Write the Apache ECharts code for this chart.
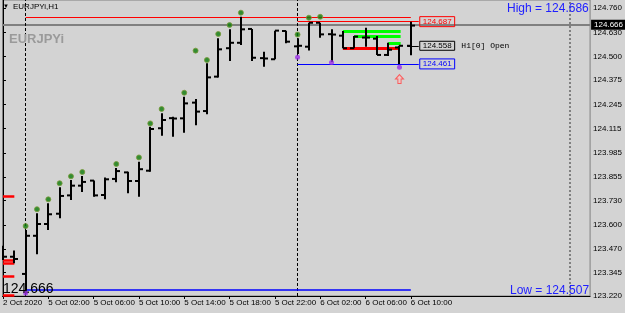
<!DOCTYPE html>
<html>
<head>
<meta charset="utf-8">
<script src="https://cdn.jsdelivr.net/npm/echarts@6/dist/echarts.min.js"></script>
<style>
html, body { margin: 0; padding: 0; background: #d3d3d3; }
#main { width: 625px; height: 313px; }
</style>
</head>
<body>
<div id="main"></div>
<script>
// EURJPYi H1 bars, 2 Oct 22:00 .. 6 Oct 10:00
var times = ['2 Oct 22:00', '2 Oct 23:00',
    '5 Oct 00:00', '5 Oct 01:00', '5 Oct 02:00', '5 Oct 03:00', '5 Oct 04:00', '5 Oct 05:00',
    '5 Oct 06:00', '5 Oct 07:00', '5 Oct 08:00', '5 Oct 09:00', '5 Oct 10:00', '5 Oct 11:00',
    '5 Oct 12:00', '5 Oct 13:00', '5 Oct 14:00', '5 Oct 15:00', '5 Oct 16:00', '5 Oct 17:00',
    '5 Oct 18:00', '5 Oct 19:00', '5 Oct 20:00', '5 Oct 21:00', '5 Oct 22:00', '5 Oct 23:00',
    '6 Oct 00:00', '6 Oct 01:00', '6 Oct 02:00', '6 Oct 03:00', '6 Oct 04:00', '6 Oct 05:00',
    '6 Oct 06:00', '6 Oct 07:00', '6 Oct 08:00', '6 Oct 09:00', '6 Oct 10:00'];

var open = [123.436, 123.430, 123.338, 123.542, 123.605, 123.660, 123.758, 123.810, 123.837, 123.760,
    123.846, 123.881, 123.835, 123.890, 124.117, 124.171, 124.170, 124.254, 124.209, 124.393,
    124.545, 124.574, 124.648, 124.492, 124.486, 124.637, 124.555, 124.553, 124.681, 124.620,
    124.612, 124.545, 124.602, 124.596, 124.509, 124.549, 124.558];
var high = [123.489, 123.463, 123.573, 123.662, 123.716, 123.801, 123.840, 123.862, 123.837, 123.853,
    123.904, 123.885, 123.938, 124.125, 124.197, 124.179, 124.286, 124.273, 124.464, 124.598,
    124.646, 124.713, 124.648, 124.526, 124.639, 124.639, 124.598, 124.681, 124.681, 124.646,
    124.637, 124.610, 124.655, 124.610, 124.574, 124.558, 124.687];
var low = [123.412, 123.395, 123.234, 123.443, 123.573, 123.636, 123.733, 123.776, 123.751, 123.737,
    123.828, 123.769, 123.751, 123.885, 124.077, 124.072, 124.093, 124.133, 124.192, 124.389,
    124.477, 124.562, 124.477, 124.446, 124.486, 124.571, 124.514, 124.533, 124.601, 124.471,
    124.545, 124.545, 124.553, 124.509, 124.503, 124.461, 124.507];
var close = [123.430, 123.418, 123.542, 123.605, 123.657, 123.755, 123.810, 123.830, 123.758, 123.844,
    123.888, 123.835, 123.898, 124.113, 124.161, 124.169, 124.250, 124.206, 124.389, 124.539,
    124.574, 124.646, 124.494, 124.490, 124.639, 124.580, 124.558, 124.681, 124.619, 124.618,
    124.545, 124.607, 124.602, 124.509, 124.537, 124.558, 124.666];

var greenDots = [null, null, 123.594, 123.684, 123.737, 123.823, 123.860, 123.883, null, null,
    123.926, null, 123.961, 124.143, 124.220, null, 124.307, 124.532, 124.482, 124.621,
    124.669, 124.735, null, null, null, null, 124.618, 124.708, 124.713, null,
    null, null, null, null, null, null, null];
var purpleDots = [[2, 123.236], [26, 124.496], [29, 124.469], [35, 124.443]];
var arrows = [[35, 124.380]];

var priceTicks = [123.220, 123.345, 123.470, 123.600, 123.730, 123.855, 123.985,
    124.115, 124.245, 124.375, 124.500, 124.630, 124.760];
var timeTickIdx = [0, 4, 8, 12, 16, 20, 24, 28, 32, 36];
var timeTickLabels = ['2 Oct 2020', '5 Oct 02:00', '5 Oct 06:00', '5 Oct 10:00', '5 Oct 14:00',
    '5 Oct 18:00', '5 Oct 22:00', '6 Oct 02:00', '6 Oct 06:00', '6 Oct 10:00'];

var bid = 124.666;
var h1High = 124.687, h1Open = 124.558, h1Low = 124.461;
var dayHigh = 124.686, dayLow = 124.507;
var topLine = 124.710, bottomLine = 123.252;
var limeLevels = [124.637, 124.607, 124.574];
var limeStart = [30, 31, 34];
var redLevel = 124.545;
var leftMarks = [123.756, 123.412, 123.395, 123.323, 123.222];
var separators = [2, 26];
var shiftLine = 50;

var FONT = "'Liberation Sans Narrow', 'Liberation Sans', sans-serif";
var last = times.length - 1;

var bars = times.map(function (t, i) {
    return [i, open[i], close[i], low[i], high[i]];
});
var green = [];
greenDots.forEach(function (v, i) { if (v != null) green.push([i, v]); });

function renderBar(params, api) {
    var i = api.value(0);
    var o = api.coord([i, api.value(1)]);
    var c = api.coord([i, api.value(2)]);
    var l = api.coord([i, api.value(3)]);
    var h = api.coord([i, api.value(4)]);
    var x = Math.round(o[0]);
    var st = { stroke: '#000', lineWidth: 2 };
    return {
        type: 'group',
        children: [
            { type: 'line', shape: { x1: x, y1: h[1], x2: x, y2: l[1] }, style: st },
            { type: 'line', shape: { x1: x - 4, y1: o[1], x2: x, y2: o[1] }, style: st },
            { type: 'line', shape: { x1: x, y1: c[1], x2: x + 4, y2: c[1] }, style: st }
        ]
    };
}

function seg(x1, x2, y, color, width, label) {
    var a = { coord: [x1, y], lineStyle: { color: color, width: width, type: 'solid' } };
    a.label = label || { show: false };
    return [a, { coord: [x2, y] }];
}
function boxLabel(text, color) {
    return {
        show: true, position: 'end', distance: 1, formatter: text,
        color: color, fontSize: 8, fontFamily: FONT,
        borderColor: color, borderWidth: 1, padding: [1, 3, 0, 3], lineHeight: 9
    };
}

var lines = [];
lines.push({
    yAxis: bid, lineStyle: { color: '#808080', width: 2, type: 'solid' },
    label: {
        show: true, position: 'end', distance: 1, formatter: bid.toFixed(3),
        color: '#fff', backgroundColor: '#000', fontSize: 8, fontFamily: FONT,
        padding: [1, 3, 0, 3], lineHeight: 9
    }
});
separators.forEach(function (s) {
    lines.push({ xAxis: s, lineStyle: { color: '#000', width: 1, type: [3, 2] }, label: { show: false } });
});
lines.push({ xAxis: shiftLine, lineStyle: { color: '#808080', width: 2, type: [2, 2] }, label: { show: false } });
lines.push(seg(2, last, topLine, '#ff0000', 1));
lines.push(seg(2, last, bottomLine, '#0000ff', 1.5));
lines.push(seg(26, last + 0.7, h1High, '#ff0000', 1, boxLabel(h1High.toFixed(3), '#ff0000')));
lines.push(seg(26, last + 0.7, h1Low, '#0000ff', 1, boxLabel(h1Low.toFixed(3), '#0000ff')));
lines.push(seg(last - 0.3, last + 0.7, h1Open, '#000', 1, {
    show: true, position: 'end', distance: 1,
    formatter: '{b|' + h1Open.toFixed(3) + '}  {t|H1[0] Open}',
    rich: {
        b: { color: '#000', fontSize: 8, fontFamily: FONT, borderColor: '#000', borderWidth: 1, padding: [1, 3, 0, 3], lineHeight: 9 },
        t: { color: '#000', fontSize: 8, fontFamily: "'Liberation Mono', monospace" }
    }
}));
limeLevels.forEach(function (v, k) {
    lines.push(seg(limeStart[k], last - 0.9, v, '#00ff00', 3));
});
lines.push(seg(30, last - 1, redLevel, '#ff0000', 3));
leftMarks.forEach(function (v) {
    lines.push(seg(0, 1, v, '#ff0000', 2.5));
});

var myChart = echarts.init(document.getElementById('main'));
myChart.setOption({
    animation: false,
    backgroundColor: '#d3d3d3',
    grid: { left: 2, top: 0, width: 590, height: 296, show: true, borderColor: '#808080', borderWidth: 1, backgroundColor: '#d3d3d3' },
    xAxis: {
        type: 'value', min: -0.044, max: 51.824,
        axisLine: { onZero: false, lineStyle: { color: '#000', width: 1 } },
        splitLine: { show: false },
        axisTick: { customValues: timeTickIdx, length: 3, lineStyle: { color: '#000' } },
        axisLabel: {
            customValues: timeTickIdx, align: 'left', margin: 3,
            fontSize: 8, fontFamily: FONT, color: '#000',
            formatter: function (v) { return timeTickLabels[timeTickIdx.indexOf(Math.round(v))]; }
        }
    },
    yAxis: {
        type: 'value', position: 'right', min: 123.22, max: 124.80278,
        axisLine: { show: true, lineStyle: { color: '#000', width: 1 } },
        splitLine: { show: false },
        axisTick: { show: true, customValues: priceTicks, length: 3, lineStyle: { color: '#000' } },
        axisLabel: {
            customValues: priceTicks, margin: 3, fontSize: 8, fontFamily: FONT, color: '#000',
            formatter: function (v) { return v.toFixed(3); }
        }
    },
    series: [
        {
            type: 'line', data: [], silent: true,
            markLine: { silent: true, symbol: ['none', 'none'], animation: false, z: 1, data: lines }
        },
        {
            type: 'custom', name: 'EURJPYi', renderItem: renderBar, data: bars,
            encode: { x: 0, y: [1, 2, 3, 4] }, z: 5, clip: true
        },
        {
            type: 'scatter', data: green, symbol: 'circle', symbolSize: 5, z: 6,
            itemStyle: { color: '#0a7a0a', borderColor: '#7a9a3a', borderWidth: 1 }
        },
        {
            type: 'scatter', data: purpleDots, symbol: 'circle', symbolSize: 5, z: 6,
            itemStyle: { color: '#9b30e8' }
        },
        {
            type: 'scatter', data: arrows, symbol: 'path://M5 0 L10 5 L7 5 L7 10 L3 10 L3 5 L0 5 Z',
            symbolSize: [8, 9], z: 6,
            itemStyle: { color: '#f4c4c4', borderColor: '#ff4040', borderWidth: 1 }
        }
    ],
    graphic: [
        { type: 'text', left: 3, top: 3, z: 100, style: { text: '▼', fontSize: 6, fill: '#000' } },
        { type: 'text', left: 13, top: 3, z: 100, style: { text: 'EURJPYi,H1', fontSize: 8, fontFamily: FONT, fill: '#000' } },
        { type: 'text', left: 9, top: 33, z: 100, style: { text: 'EURJPYi', fontSize: 13, fontWeight: 'bold', fontFamily: FONT, fill: '#9a9a9a' } },
        { type: 'text', left: 507, top: 3, z: 100, style: { text: 'High = ' + dayHigh.toFixed(3), fontSize: 12, fontFamily: "'Liberation Sans', Arial", fill: '#2020ff' } },
        { type: 'text', left: 510, top: 285, z: 100, style: { text: 'Low = ' + dayLow.toFixed(3), fontSize: 12, fontFamily: "'Liberation Sans', Arial", fill: '#2020ff' } },
        { type: 'text', left: 3, top: 282, z: 100, style: { text: bid.toFixed(3), fontSize: 14, fontFamily: "'Liberation Sans', Arial", fill: '#000' } }
    ]
});
</script>
</body>
</html>
